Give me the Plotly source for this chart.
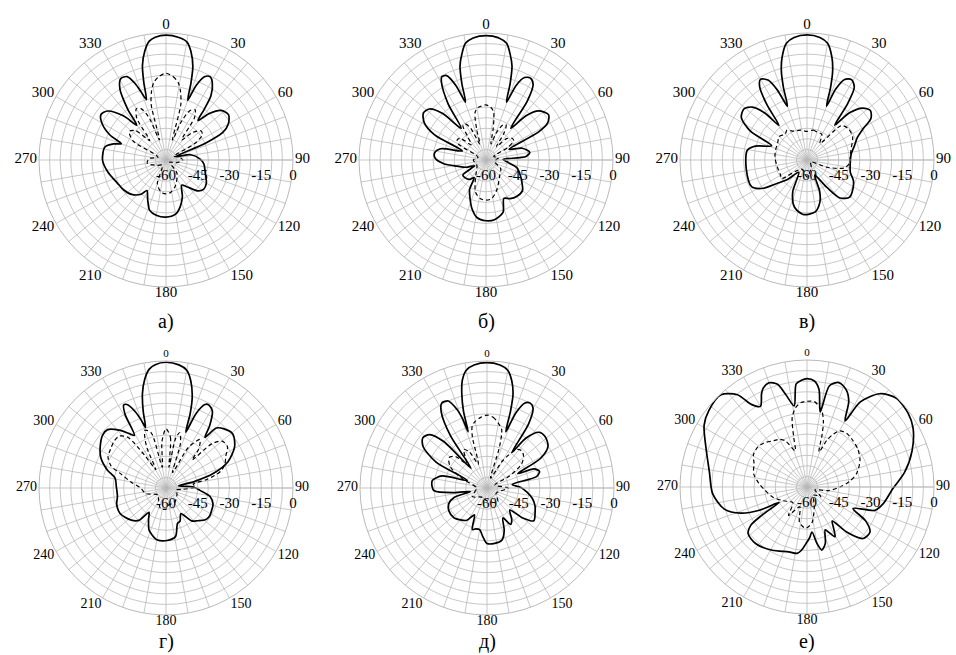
import plotly.graph_objects as go

# ---------------- data (angle in degrees, level in dB) ----------------
A_SOL_T = [0, 6, 10, 13, 16, 18, 20, 22, 25, 28, 31, 35, 37, 39, 43, 48, 54, 60, 64, 67, 70, 78, 88, 96, 108, 120, 128, 134, 142, 148, 156, 163, 170, 180, 190, 198, 205, 212, 216, 225, 235, 245, 258, 270, 282, 287, 290, 294, 300, 305, 310, 316, 320, 323, 327, 331, 335, 338, 340, 342, 344, 346, 349, 352, 355, 360]
A_SOL_R = [-1, -1.8, -3.3, -7.5, -14, -22, -30, -22, -16.5, -15.5, -17.5, -23, -30, -36, -30, -25, -23.5, -26, -30, -40, -55, -48, -44, -42, -40.5, -38, -37.5, -39, -44, -46, -41, -37, -34, -33, -33.5, -35, -39.5, -43, -40, -37, -35.5, -34.5, -32, -30, -30.5, -34, -37.5, -31, -25, -22.5, -24, -31, -38.5, -30, -20, -16, -16.5, -21, -26, -30, -22, -14, -7.5, -3.3, -1.8, -1]
A_DSH_T = [0, 5, 9, 12, 15, 18, 22, 26, 30, 34, 38, 44, 50, 55, 60, 65, 75, 90, 105, 120, 140, 160, 172, 180, 188, 200, 215, 240, 260, 275, 290, 300, 308, 314, 320, 325, 330, 334, 338, 342, 345, 348, 351, 355, 360]
A_DSH_R = [-19, -20.5, -23, -27, -33, -50, -40, -34, -32.5, -36, -48, -42, -38.5, -39, -44, -56, -54, -52, -55, -58, -52, -47, -44.5, -44, -44.5, -48, -57, -55, -51, -52, -56, -42, -38, -40, -48, -36, -32, -33, -38, -50, -33, -27, -23, -20.5, -19]

B_SOL_T = [0, 6, 10, 13, 15.5, 17.5, 19.5, 22, 25, 28.5, 32, 35, 38, 42, 47, 54, 59, 62, 65, 72, 80, 85, 88, 95, 104, 115, 122, 130, 140, 148, 155, 162, 172, 180, 189, 196, 202, 209, 214, 220, 230, 237, 243, 250, 258, 265, 272, 278, 284, 291, 296, 301, 307, 312, 317, 322, 326, 330, 332, 335, 338, 340.5, 342.5, 344.5, 347, 350, 354, 360]
B_SOL_R = [-1.2, -2, -4, -9, -14, -22, -31, -22, -17, -16, -18, -26, -41, -32, -26, -23.5, -26, -32, -48, -42, -39, -41, -52, -50, -45, -42, -40, -37.5, -37.5, -38.5, -40, -34, -31.5, -31.3, -32.5, -36, -40, -44, -50, -48, -47, -47, -54, -50, -46, -40, -36, -35.5, -38, -48, -33, -26, -23, -24, -30, -41, -28, -18, -15.5, -16, -22, -31, -22, -14, -9, -4, -2, -1.2]
B_DSH_T = [0, 5, 9, 13, 17, 21, 26, 30, 34, 38, 44, 50, 55, 60, 65, 80, 100, 120, 140, 160, 172, 180, 188, 198, 210, 240, 270, 290, 300, 305, 310, 316, 322, 326, 330, 334, 339, 343, 347, 351, 355, 360]
B_DSH_R = [-34, -35, -37, -45, -52, -46, -41.5, -41, -45, -52, -46, -44, -44, -48, -56, -54, -56, -52, -50, -45, -41.5, -41, -41.5, -44, -50, -55, -54, -56, -45, -43.4, -44, -50, -46, -40.5, -40.3, -43, -52, -45, -37, -35, -34.5, -34]

C_SOL_T = [0, 6, 10, 13.5, 16, 18, 20, 22, 25, 29, 33, 36, 38.5, 42, 47, 52, 57, 61, 66, 73, 82, 95, 106, 114, 122, 131, 139, 144, 153, 158, 163, 171, 184, 195, 204, 214, 225, 232, 237, 244, 262, 279, 285, 292, 297, 303, 309, 314, 318, 321, 324, 327, 330, 334, 337, 340, 342, 344, 346.5, 350, 354, 360]
C_SOL_R = [-0.9, -1.8, -4, -9.8, -16, -24, -33, -24, -18, -16.6, -19, -28, -39, -30, -24, -22, -24, -29.8, -34, -36.5, -38.9, -39.5, -38.7, -36, -34.4, -33.3, -36.2, -44, -52, -44, -39.2, -35.2, -34.2, -37, -43.4, -53, -47, -42, -35.5, -31, -31, -31.4, -34.7, -42, -30, -23, -21.7, -24, -30, -39, -28, -19, -16, -18, -24, -33, -24, -16, -9.8, -4, -1.8, -0.9]
C_DSH_T = [0, 12, 20, 30, 38, 45, 53, 63, 77, 86, 95, 102, 110, 118, 150, 180, 210, 234, 240, 257, 275, 288, 300, 310, 320, 326, 335, 348, 360]
C_DSH_R = [-46.5, -45.6, -46, -46, -50, -37, -35.5, -35.8, -38.7, -39.5, -40, -42, -50, -58, -56, -52, -55, -45, -45.6, -45.6, -44.8, -44.4, -44, -42.8, -44, -43, -45, -45.6, -46.5]

D_SOL_T = [0, 6, 10, 13, 16, 18, 19.5, 22, 25, 27, 31, 35, 37.5, 40, 44, 51, 59, 67, 73, 77, 81, 88, 94, 101, 109, 116, 123, 129, 136, 142, 150, 157, 162, 169, 179, 190, 197, 202, 209, 215, 220, 228, 241, 252, 260, 272, 281, 287, 295, 303, 310, 315, 321, 326, 329, 331, 333, 335, 338, 340, 341.3, 343.5, 346, 349, 352, 355, 360]
D_SOL_R = [-0.6, -1.5, -3.5, -8, -15, -23, -32, -22, -16.5, -15.8, -17.5, -24, -29.8, -23, -21, -19.4, -22.2, -28.2, -36.7, -46, -54, -47, -43.9, -38.8, -36.5, -36, -35.5, -36.1, -38.5, -40.3, -46, -43, -42.4, -36.6, -35.2, -35.2, -37, -38.6, -43, -46, -40, -37.5, -35.2, -35.5, -36.7, -36.5, -35.5, -31, -26, -23, -21, -21, -24.8, -29, -31, -20, -16, -16.5, -21, -26, -29.8, -22, -14, -7.5, -3.3, -1.5, -0.6]
D_DSH_T = [0, 5, 8, 11, 14, 18, 23, 29, 35, 40, 43, 46, 50, 56, 62, 68, 73, 78, 82, 88, 94, 100, 120, 150, 170, 180, 195, 210, 230, 255, 270, 280, 287, 292, 298, 305, 312, 318, 323, 327, 331, 335, 340, 345, 350, 355, 360]
D_DSH_R = [-32, -36, -50, -36, -33, -38, -52, -38, -32, -36, -42, -30, -25.5, -25, -28, -30, -33, -40, -47, -46, -52, -55, -54, -52, -52, -50, -50, -53, -55, -50, -48, -43, -38, -32, -29, -28, -27, -27, -30, -42, -50, -38, -31, -33, -50, -38, -32]

E_SOL_T = [0, 6, 10, 13, 15.5, 17, 18.5, 21, 24, 27, 30, 33, 35, 38, 43, 48, 55.5, 61, 65, 68, 72.5, 77, 82, 89, 96, 103, 110, 117, 125, 130, 134, 142, 147, 152, 158, 164, 172, 180, 185, 190, 195, 199.5, 205, 212, 218, 228, 239, 248, 254, 258, 262, 267, 272, 278, 285, 291, 297, 303, 308, 313, 317, 321, 325, 329, 332, 336, 339, 340.5, 341.5, 343, 345, 347, 350, 354, 360]
E_SOL_R = [-0.8, -1.6, -3.5, -8, -14, -22, -32, -22, -16, -15, -16.5, -24, -39.5, -30, -24, -23.3, -25, -31, -44, -36, -34, -36, -48, -44, -41, -38, -35.9, -34.5, -33, -38, -45, -41, -39.5, -44, -38.3, -34.4, -33.6, -33.8, -37, -40, -40, -39.2, -46, -42, -40.7, -39, -39, -40.6, -44, -52, -44, -35, -34, -34, -38, -50, -33, -24, -21.5, -23, -30, -48, -30, -18, -14.5, -15, -20, -25, -32, -22, -14, -8, -3.5, -1.6, -0.8]
E_DSH_T = [0, 5, 10, 14, 17, 20, 30, 37.6, 43, 48.6, 55, 62, 70, 90, 120, 140, 150, 180, 210, 240, 270, 290, 300, 308.7, 315, 320, 325, 329, 334, 340, 344, 346.5, 350, 355, 360]
E_DSH_R = [-25.6, -26.5, -29, -31.4, -40, -55, -45, -37, -36, -37, -40, -48, -56, -50, -55, -52, -52, -54, -55, -52, -55, -48, -40, -37, -39, -45, -42, -38.7, -41, -48, -35, -30, -28, -26.5, -25.6]

F_SOL_T = [0, 4, 7, 10, 12.5, 17, 22, 26, 30, 32, 38, 45, 54, 61, 71, 81.5, 91, 102.5, 109, 115, 120, 125.6, 132.5, 138.6, 143.4, 147, 150.6, 154, 157, 162, 166.7, 170, 173.7, 177, 180, 185, 188.5, 195.7, 208.8, 222, 231.6, 235.7, 238, 241, 244, 248.4, 255, 266, 279, 291, 301, 308, 317, 323, 326, 330, 334, 336, 340, 344, 347, 351, 354, 357, 360]
F_SOL_R = [-8.8, -9.8, -13.5, -24, -11, -8.4, -10.5, -15, -24, -12.7, -4.1, -0.5, -0.9, -2.7, -7.5, -13.4, -19.4, -23.2, -26.1, -36, -28, -23.4, -24, -31.7, -40, -37, -33, -36, -38, -32, -29.4, -33, -38.6, -36, -34, -30, -28.3, -28.2, -25.9, -23.9, -24.5, -27.8, -35, -45, -35, -26.4, -19.6, -15.3, -13.3, -8.9, -3.3, -1.2, -0.4, -5.4, -12.9, -16, -11, -9, -7.6, -9.5, -15, -21.2, -11, -9.5, -8.8]
F_DSH_T = [0, 5, 11, 14, 16, 19, 23, 26.6, 30.5, 37, 43, 53, 63.4, 75, 83, 90, 100, 110, 125, 140, 160, 172, 182, 192, 200, 213, 222, 240, 254, 266, 274, 284, 293.6, 301, 308.7, 316, 324.5, 330, 335, 342, 345, 348, 352, 356, 360]
F_DSH_R = [-19.5, -19.5, -23.4, -28, -34, -42.5, -36, -32, -29.2, -28.5, -29, -30, -32, -35.8, -40, -44.4, -50, -56, -52, -55, -50, -43, -40.5, -43, -50, -44, -50, -47, -43, -40, -37.3, -34, -32.7, -30.5, -30, -31, -33.1, -34, -36, -42, -35.8, -26.4, -22, -20, -19.5]

# label, solid theta/r, dashed theta/r, centre x, centre y, caption y, caption anchor, label size, top label size
PANELS = [
    ("а)", A_SOL_T, A_SOL_R, A_DSH_T, A_DSH_R, 166, 160, 322, "middle", 15, 15),
    ("б)", B_SOL_T, B_SOL_R, B_DSH_T, B_DSH_R, 486, 160, 322, "middle", 15, 15),
    ("в)", C_SOL_T, C_SOL_R, C_DSH_T, C_DSH_R, 807, 160, 322, "middle", 15, 15),
    ("г)", D_SOL_T, D_SOL_R, D_DSH_T, D_DSH_R, 166, 488, 655, "bottom", 14, 11),
    ("д)", E_SOL_T, E_SOL_R, E_DSH_T, E_DSH_R, 487, 488, 655, "bottom", 14, 11),
    ("е)", F_SOL_T, F_SOL_R, F_DSH_T, F_DSH_R, 807, 487, 655, "bottom", 14, 11),
]

ANG_TICKS = list(range(0, 360, 10))
RAD_TICKS = list(range(-60, 1, 5))
RAD_TEXT = [str(v) if v % 15 == 0 else "" for v in RAD_TICKS]


def ang_text(size, top_size):
    out = []
    for a in ANG_TICKS:
        if a % 30:
            out.append("")
        else:
            s = top_size if a == 0 else size
            out.append(f'<span style="font-size:{s}px">{a}</span>')
    return out


W, H = 956, 655
RADIUS = 127
FONT = "Liberation Serif"
GRID = "#b9b9b9"

fig = go.Figure()
layout = dict(width=W, height=H, margin=dict(l=0, r=0, t=0, b=0),
              paper_bgcolor="white", showlegend=False, annotations=[])

for i, (lab, st, sr, dt, dr, cx, cy, ly, anc, fs, fs0) in enumerate(PANELS):
    name = "polar" if i == 0 else f"polar{i+1}"
    fig.add_trace(go.Scatterpolar(theta=st, r=sr, mode="lines", subplot=name,
                                  line=dict(color="black", width=1.7, shape="spline", smoothing=0.8),
                                  hoverinfo="skip"))
    fig.add_trace(go.Scatterpolar(theta=dt, r=dr, mode="lines", subplot=name,
                                  line=dict(color="black", width=1.2, dash="4px,3px", shape="spline", smoothing=0.8),
                                  hoverinfo="skip"))
    layout[name] = dict(
        domain=dict(x=[(cx - RADIUS) / W, (cx + RADIUS) / W],
                    y=[(H - cy - RADIUS) / H, (H - cy + RADIUS) / H]),
        bgcolor="white",
        angularaxis=dict(rotation=90, direction="clockwise", tickvals=ANG_TICKS, ticktext=ang_text(fs, fs0),
                         ticks="", showline=True, linecolor=GRID, linewidth=1, gridcolor=GRID,
                         gridwidth=0.8, tickfont=dict(family=FONT, size=8, color="black")),
        radialaxis=dict(range=[-60, 0], tickvals=RAD_TICKS, ticktext=RAD_TEXT, angle=0,
                        side="clockwise", ticks="outside", ticklen=2, tickcolor="rgba(0,0,0,0)",
                        showline=True, linecolor=GRID, linewidth=0.8, gridcolor=GRID, gridwidth=0.8,
                        tickfont=dict(family=FONT, size=15, color="black")),
    )
    layout["annotations"].append(dict(text=lab, x=cx / W, y=(H - ly) / H, xref="paper",
                                      yref="paper", showarrow=False, xanchor="center", yanchor=anc,
                                      font=dict(family=FONT, size=20, color="black")))

fig.update_layout(**layout)
fig.write_html("out.html", config={"displayModeBar": False, "staticPlot": True},
               post_script="document.body.style.margin='0';document.body.style.overflow='hidden';")
